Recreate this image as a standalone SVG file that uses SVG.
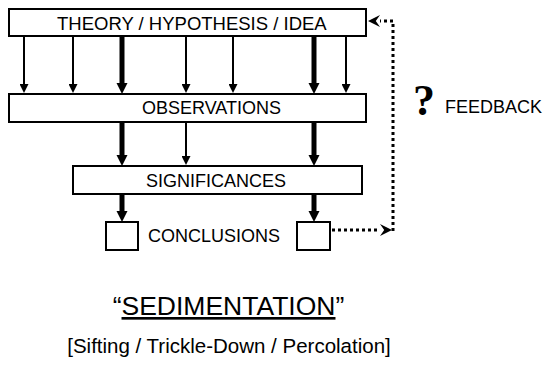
<svg xmlns="http://www.w3.org/2000/svg" width="544" height="368" viewBox="0 0 544 368">
<style>
.box{fill:#fff;stroke:#000;stroke-width:2}
.t{font-family:"Liberation Sans",Arial,sans-serif;font-size:18px;fill:#000}
.cap1{font-family:"Liberation Sans",Arial,sans-serif;font-size:26.5px;fill:#000}
.cap2{font-family:"Liberation Sans",Arial,sans-serif;font-size:20.5px;fill:#000}
.q{font-family:"Liberation Serif","Times New Roman",serif;font-weight:bold;font-size:44px;fill:#000}
.thin{stroke:#000;stroke-width:2;fill:none}
.thick{stroke:#000;stroke-width:5;fill:none}
.dot{stroke:#000;stroke-width:3;stroke-dasharray:3 3;fill:none}
</style>
<defs>
<marker id="hThin" viewBox="0 0 10 10" refX="0" refY="5" markerWidth="10" markerHeight="9" markerUnits="userSpaceOnUse" orient="auto">
<path d="M0,0 L10,5 L0,10 z" fill="#000"/>
</marker>
<marker id="hThick" viewBox="0 0 10 10" refX="0" refY="5" markerWidth="11" markerHeight="13" markerUnits="userSpaceOnUse" orient="auto">
<path d="M0,0 L10,5 L0,10 z" fill="#000"/>
</marker>
<marker id="hChev" viewBox="0 0 10 10" refX="0" refY="5" markerWidth="12" markerHeight="13" markerUnits="userSpaceOnUse" orient="auto">
<path d="M0,0 L10,5 L0,10 L3.5,5 z" fill="#000"/>
</marker>
</defs>
<g id="theory"><rect class="box" x="9" y="9" width="357" height="27"/><text class="t" x="57" y="29.5" style="font-size:18.5px">THEORY / HYPOTHESIS / IDEA</text></g>
<g id="observations"><rect class="box" x="9" y="94" width="357" height="28"/><text class="t" x="142" y="113.5">OBSERVATIONS</text></g>
<g id="significances"><rect class="box" x="73" y="166" width="289" height="28"/><text class="t" x="146" y="186.5">SIGNIFICANCES</text></g>
<g id="conclusion1"><rect class="box" x="106" y="222" width="32" height="28"/></g>
<g id="conclusion2"><rect class="box" x="297" y="222" width="33" height="28"/></g>
<g id="conclusions-label"><text class="t" x="148" y="242">CONCLUSIONS</text></g>
<g id="feedback-label"><text class="q" x="413" y="115">?</text><text class="t" x="445" y="113">FEEDBACK</text></g>
<g id="connectors">
<line class="thin" x1="24" y1="37" x2="24" y2="84" marker-end="url(#hThin)"/>
<line class="thin" x1="73" y1="37" x2="73" y2="84" marker-end="url(#hThin)"/>
<line class="thick" x1="122" y1="37" x2="122" y2="83" marker-end="url(#hThick)"/>
<line class="thin" x1="186" y1="37" x2="186" y2="84" marker-end="url(#hThin)"/>
<line class="thin" x1="233" y1="37" x2="233" y2="84" marker-end="url(#hThin)"/>
<line class="thick" x1="314" y1="37" x2="314" y2="83" marker-end="url(#hThick)"/>
<line class="thin" x1="346" y1="37" x2="346" y2="84" marker-end="url(#hThin)"/>
<line class="thick" x1="122" y1="123" x2="122" y2="155" marker-end="url(#hThick)"/>
<line class="thin" x1="186" y1="123" x2="186" y2="156" marker-end="url(#hThin)"/>
<line class="thick" x1="314" y1="123" x2="314" y2="155" marker-end="url(#hThick)"/>
<line class="thick" x1="122" y1="195" x2="122" y2="211" marker-end="url(#hThick)"/>
<line class="thick" x1="314" y1="195" x2="314" y2="211" marker-end="url(#hThick)"/>
<path class="dot" d="M332,230 H380" marker-end="url(#hChev)"/>
<path class="dot" d="M393,231 V21 H380" marker-end="url(#hChev)"/>
</g>
<g id="caption">
<text class="cap1" x="228.5" y="315" text-anchor="middle">“<tspan text-decoration="underline">SEDIMENTATION</tspan>”</text>
<text class="cap2" x="229" y="353" text-anchor="middle">[Sifting / Trickle-Down / Percolation]</text>
</g>
</svg>
